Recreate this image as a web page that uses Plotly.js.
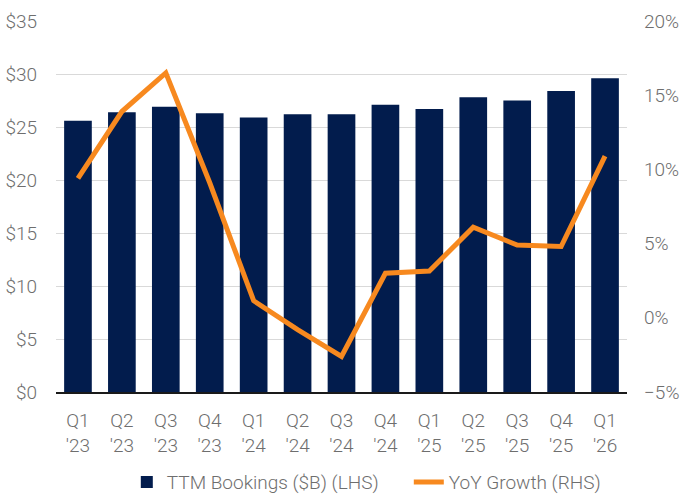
<!DOCTYPE html>
<html>
<head>
<meta charset="utf-8">
<script src="https://cdn.plot.ly/plotly-3.0.1.min.js"></script>
<style>
  html, body { margin: 0; padding: 0; background: #ffffff; }
  #chart { width: 681px; height: 494px; }
</style>
</head>
<body>
<div id="chart"></div>
<script>
const QUARTERS = ["Q1<br>'23", "Q2<br>'23", "Q3<br>'23", "Q4<br>'23", "Q1<br>'24", "Q2<br>'24", "Q3<br>'24",
    "Q4<br>'24", "Q1<br>'25", "Q2<br>'25", "Q3<br>'25", "Q4<br>'25", "Q1<br>'26"];
const TTM_BOOKINGS = [25.6, 26.4, 26.9, 26.3, 25.9, 26.2, 26.2, 27.1, 26.7, 27.8, 27.5, 28.4, 29.6];
const YOY_GROWTH = [9.4, 13.9, 16.5, 9.1, 1.15, -0.8, -2.6, 3.0, 3.15, 6.1, 4.9, 4.8, 10.9];

const NAVY = "#021c4d";
const ORANGE = "#f7891f";
const LABEL_GREY = "#6e6e6e";
const FONT = "Roboto, \"Liberation Sans\", sans-serif";
const TEXT_FONT = { family: FONT, size: 19, color: LABEL_GREY, weight: 300 };

const traces = [
    {
        type: "bar",
        name: "TTM Bookings ($B) (LHS)",
        x: QUARTERS,
        y: TTM_BOOKINGS,
        marker: { color: NAVY },
        hoverinfo: "skip",
    },
    {
        type: "scatter",
        mode: "lines",
        name: "YoY Growth (RHS)",
        x: QUARTERS,
        y: YOY_GROWTH,
        yaxis: "y2",
        line: { color: ORANGE, width: 5 },
        hoverinfo: "skip",
    },
];

const layout = {
    width: 681,
    height: 494,
    margin: { t: 21, r: 54, b: 102, l: 56, autoexpand: false },
    paper_bgcolor: "#ffffff",
    plot_bgcolor: "#ffffff",
    font: TEXT_FONT,
    bargap: 0.37,
    showlegend: true,
    legend: {
        orientation: "h",
        x: 0.124,
        xanchor: "left",
        y: -0.243,
        yanchor: "middle",
        entrywidth: 237,
        font: TEXT_FONT,
        traceorder: "normal",
    },
    xaxis: {
        type: "category",
        range: [-0.5, 12.5],
        showline: true,
        linecolor: "#1a1a1a",
        linewidth: 2,
        ticks: "",
        showgrid: false,
        ticklabelstandoff: 10,
        tickfont: TEXT_FONT,
        fixedrange: true,
    },
    yaxis: {
        range: [0, 35],
        dtick: 5,
        tickprefix: "$",
        showgrid: true,
        gridcolor: "#d9d9d9",
        gridwidth: 1,
        zeroline: false,
        ticks: "",
        ticklabelstandoff: 18,
        tickfont: TEXT_FONT,
    },
    yaxis2: {
        overlaying: "y",
        side: "right",
        range: [-5, 20],
        dtick: 5,
        ticksuffix: "%",
        showgrid: false,
        zeroline: false,
        ticks: "",
        ticklabelstandoff: 16,
        tickfont: TEXT_FONT,
    },
};

Plotly.newPlot("chart", traces, layout, { staticPlot: true, displayModeBar: false });
</script>
</body>
</html>
